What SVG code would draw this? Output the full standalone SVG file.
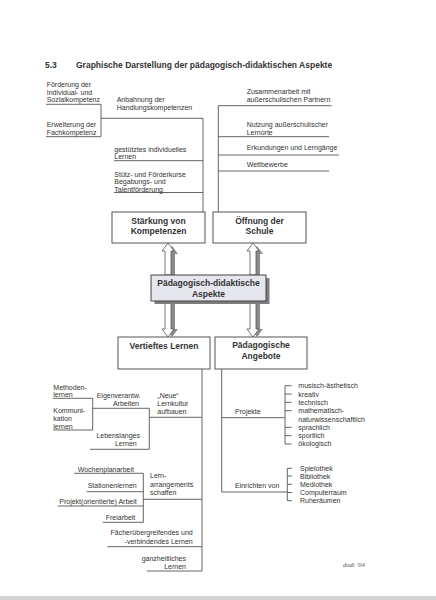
<svg xmlns="http://www.w3.org/2000/svg" width="436" height="600" viewBox="0 0 436 600">
<defs>
<style>
.t{font-family:"Liberation Sans",Arial,sans-serif;font-size:7px;fill:#333}
.e{text-anchor:end}
.h{font-family:"Liberation Sans",Arial,sans-serif;font-size:8.5px;font-weight:bold;fill:#333}
.b{font-family:"Liberation Sans",Arial,sans-serif;font-size:8.5px;font-weight:bold;fill:#333;text-anchor:middle}
.box{fill:#fff;stroke:#555;stroke-width:1}
.ln{stroke:#555;stroke-width:0.9;fill:none}
.arr{fill:#fff;stroke:#555;stroke-width:0.8}
.sh{fill:#8a8a8a}
</style>
</defs>
<rect width="436" height="600" fill="#fff"/>
<rect x="0" y="596" width="436" height="4" fill="#d2d2d2"/>

<g id="title">
<text class="h" x="45" y="67.5">5.3</text>
<text class="h" x="76" y="67.5">Graphische Darstellung der pädagogisch-didaktischen Aspekte</text>
</g>

<g id="connectors">
<path class="ln" d="M46,104.3H101V136.7H46M101,118.3H203V212M114,160.7H203M114,192.5H203"/>
<path class="ln" d="M218.3,105.7V212M218.3,105.7H331.7M218.3,136.7H329M218.3,155H339M218.3,171H329"/>
<path class="ln" d="M202,369V571M53,398.3H92.7V430H53M92.7,408.3H149.3V449.3H90M149.3,417.3H202"/>
<path class="ln" d="M74.3,473.3H143.3V522.3H102.7M86.7,491.7H143.3M57.7,506H143.3M143.3,499.3H202M107.3,546.7H202M147,571H202"/>
<path class="ln" d="M221.7,369V492M221.7,417.7H285M285,385.7V444M285,385.7H291.7M285,394H291.7M285,402.3H291.7M285,410.7H291.7M285,427.3H291.7M285,435.7H291.7M285,444H291.7"/>
<path class="ln" d="M221.7,492H287.3M287.3,468.3V500.7M287.3,468.3H292M287.3,476H292M287.3,484.3H292M287.3,492.5H292M287.3,500.7H292"/>
<g id="arrows">
<path class="sh" d="M172,246L178,254L175,254L175,278L169,278L169,254L166,254Z"/>
<path class="arr" d="M168,243L174,251L171,251L171,275L165,275L165,251L162,251Z"/>
<path class="sh" d="M257,246L263,254L260,254L260,278L254,278L254,254L251,254Z"/>
<path class="arr" d="M253,243L259,251L256,251L256,275L250,275L250,251L247,251Z"/>
<path class="sh" d="M172,337L166,329L169,329L169,303L175,303L175,329L178,329Z"/>
<path class="arr" d="M168,337L162,329L165,329L165,301L171,301L171,329L174,329Z"/>
<path class="sh" d="M257,337L251,329L254,329L254,303L260,303L260,329L263,329Z"/>
<path class="arr" d="M253,337L247,329L250,329L250,301L256,301L256,329L259,329Z"/>
</g>
</g>

<g id="staerkung">
<rect class="box" x="112" y="212" width="93" height="31"/>
<text class="b" x="158.5" y="223.5">Stärkung von</text>
<text class="b" x="158.5" y="234">Kompetenzen</text>
</g>
<g id="oeffnung">
<rect class="box" x="213" y="212" width="93" height="31"/>
<text class="b" x="259.5" y="223.5">Öffnung der</text>
<text class="b" x="259.5" y="234">Schule</text>
</g>
<g id="zentral">
<rect x="154.5" y="278" width="115" height="26" fill="#7d7d7d"/>
<rect x="151" y="275" width="115" height="26" fill="#e6e6ee" stroke="#444" stroke-width="1"/>
<text class="b" x="208.5" y="286">Pädagogisch-didaktische</text>
<text class="b" x="208.5" y="296.5">Aspekte</text>
</g>
<g id="vertieftes">
<rect class="box" x="118" y="337" width="92" height="32"/>
<text class="b" x="164" y="348.5">Vertieftes Lernen</text>
</g>
<g id="angebote">
<rect class="box" x="215" y="337" width="92" height="32"/>
<text class="b" x="261" y="348">Pädagogische</text>
<text class="b" x="261" y="358.5">Angebote</text>
</g>

<g id="kompetenz-items">
<text class="t" x="46.7" y="87">Förderung der</text>
<text class="t" x="46.7" y="94.5">Individual- und</text>
<text class="t" x="46.7" y="102">Sozialkompetenz</text>
<text class="t" x="116.7" y="102">Anbahnung der</text>
<text class="t" x="116.7" y="110">Handlungskompetenzen</text>
<text class="t" x="46.7" y="127">Erweiterung der</text>
<text class="t" x="46.7" y="135">Fachkompetenz</text>
<text class="t" x="114.3" y="151.5">gestütztes individuelles</text>
<text class="t" x="114.3" y="159">Lernen</text>
<text class="t" x="114.3" y="176.5">Stütz- und Förderkurse</text>
<text class="t" x="114.3" y="184">Begabungs- und</text>
<text class="t" x="114.3" y="191.5">Talentförderung</text>
</g>
<g id="oeffnung-items">
<text class="t" x="246.7" y="93.5">Zusammenarbeit mit</text>
<text class="t" x="246.7" y="101.5">außerschulischen Partnern</text>
<text class="t" x="246.7" y="126.5">Nutzung außerschulischer</text>
<text class="t" x="246.7" y="134.5">Lernorte</text>
<text class="t" x="246.7" y="150">Erkundungen und Lerngänge</text>
<text class="t" x="246.7" y="167">Wettbewerbe</text>
</g>
<g id="lernen-items">
<text class="t" x="53.3" y="389.5">Methoden-</text>
<text class="t" x="53.3" y="397">lernen</text>
<text class="t" x="53.3" y="413">Kommuni-</text>
<text class="t" x="53.3" y="421">kation</text>
<text class="t" x="53.3" y="428.5">lernen</text>
<text class="t e" x="140.7" y="398">Eigenverantw.</text>
<text class="t e" x="139" y="405.5">Arbeiten</text>
<text class="t" x="157.3" y="398">„Neue“</text>
<text class="t" x="157.3" y="405.5">Lernkultur</text>
<text class="t" x="157.3" y="413.5">aufbauen</text>
<text class="t e" x="140" y="437.5">Lebenslanges</text>
<text class="t e" x="136.7" y="446">Lernen</text>
<text class="t e" x="134" y="471.5">Wochenplanarbeit</text>
<text class="t e" x="136.7" y="487.5">Stationenlernen</text>
<text class="t e" x="136.7" y="504">Projekt(orientierte) Arbeit</text>
<text class="t e" x="135.3" y="520">Freiarbeit</text>
<text class="t" x="150" y="477.5">Lern-</text>
<text class="t" x="150" y="486.5">arrangements</text>
<text class="t" x="150" y="495">schaffen</text>
<text class="t e" x="192.7" y="535">Fächerübergreifendes und</text>
<text class="t e" x="192.7" y="543.5">-verbindendes Lernen</text>
<text class="t e" x="186" y="561">ganzheitliches</text>
<text class="t e" x="186" y="569">Lernen</text>
</g>
<g id="angebote-items">
<text class="t" x="235" y="414">Projekte</text>
<text class="t" x="298.3" y="388">musisch-ästhetisch</text>
<text class="t" x="298.3" y="396.5">kreativ</text>
<text class="t" x="298.3" y="404.5">technisch</text>
<text class="t" x="298.3" y="413">mathematisch-</text>
<text class="t" x="298.3" y="421.5">naturwissenschaftlich</text>
<text class="t" x="298.3" y="430">sprachlich</text>
<text class="t" x="298.3" y="438">sportlich</text>
<text class="t" x="298.3" y="446">ökologisch</text>
<text class="t" x="235" y="487.5">Einrichten von</text>
<text class="t" x="300" y="471">Spielothek</text>
<text class="t" x="300" y="478.5">Bibliothek</text>
<text class="t" x="300" y="487">Mediothek</text>
<text class="t" x="300" y="495">Computerraum</text>
<text class="t" x="300" y="503">Ruheräumen</text>
</g>
<g id="signature">
<text x="343" y="567" font-family="'Liberation Serif',serif" font-style="italic" font-size="6.5" fill="#555">dodi ’04</text>
</g>
</svg>
